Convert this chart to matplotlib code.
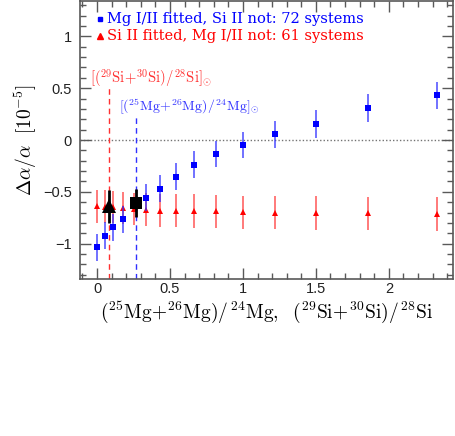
import matplotlib
matplotlib.use("Agg")
import matplotlib.pyplot as plt
from matplotlib.ticker import MultipleLocator

# Data
mg_x = [0.0, 0.053, 0.111, 0.176, 0.333, 0.429, 0.538, 0.667, 0.818, 1.0, 1.222, 1.5, 1.857, 2.333]
mg_y = [-1.035, -0.925, -0.84, -0.763, -0.558, -0.472, -0.353, -0.24, -0.135, -0.048, 0.055, 0.15, 0.308, 0.43]
mg_err = [0.13, 0.13, 0.13, 0.13, 0.13, 0.13, 0.13, 0.13, 0.13, 0.13, 0.13, 0.135, 0.135, 0.133]

si_x = [0.0, 0.053, 0.111, 0.176, 0.25, 0.333, 0.429, 0.538, 0.667, 0.818, 1.0, 1.222, 1.5, 1.857, 2.333]
si_y = [-0.64, -0.642, -0.645, -0.655, -0.665, -0.673, -0.682, -0.683, -0.685, -0.689, -0.697, -0.70, -0.703, -0.706, -0.714]
si_err = [0.157, 0.157, 0.157, 0.158, 0.158, 0.16, 0.16, 0.16, 0.16, 0.16, 0.16, 0.16, 0.16, 0.16, 0.16]

solar_si_x, solar_si_y, solar_si_err = 0.084, -0.64, 0.16
solar_mg_x, solar_mg_y, solar_mg_err = 0.266, -0.61, 0.135

n_mg, n_si = 72, 61

plt.rcParams['mathtext.fontset'] = 'cm'
fig = plt.figure(figsize=(4.55, 4.36), dpi=100)
ax = fig.add_axes([80/455, 1 - 279/436, 373/455, 278.5/436])

ax.set_xlim(-0.117, 2.44)
ax.set_ylim(-1.34, 1.345)

ax.axhline(0, color='0.45', ls=(0, (1, 1.5)), lw=1.0, zorder=1)

# solar dashed lines
ax.plot([solar_si_x, solar_si_x], [-1.34, 0.5], color='#ff3030', ls=(0, (4, 3)), lw=1.0, zorder=1)
ax.plot([solar_mg_x, solar_mg_x], [-1.34, 0.22], color='#3030ff', ls=(0, (4, 3)), lw=1.0, zorder=1)
ax.text(-0.05, 0.6, r'$[(^{29}\mathrm{Si}\!+\!^{30}\mathrm{Si})/^{28}\mathrm{Si}]_{\odot}$',
        color='#ff3030', fontsize=10.5, ha='left', va='center')
ax.text(0.15, 0.327, r'$[(^{25}\mathrm{Mg}\!+\!^{26}\mathrm{Mg})/^{24}\mathrm{Mg}]_{\odot}$',
        color='#3030ff', fontsize=10, ha='left', va='center')

ax.errorbar(si_x, si_y, yerr=si_err, fmt='^', color='red', ms=5, mew=0,
            ecolor=(1, 0.2, 0.2, 0.7), elinewidth=1.3, capsize=2.5, capthick=1.3, zorder=3)
ax.errorbar(mg_x, mg_y, yerr=mg_err, fmt='s', color='blue', ms=4.5, mew=0,
            ecolor=(0.2, 0.2, 1, 0.75), elinewidth=1.3, capsize=2.5, capthick=1.3, zorder=4)

ax.errorbar([solar_si_x], [solar_si_y], yerr=[solar_si_err], fmt='^', color='black', ms=10, mew=0,
            elinewidth=2, capsize=6, capthick=2, zorder=5)
ax.errorbar([solar_mg_x], [solar_mg_y], yerr=[solar_mg_err], fmt='s', color='black', ms=8, mew=0,
            elinewidth=2, capsize=6, capthick=2, zorder=5)

# legend as text
ax.plot([0.02], [1.165], 's', color='blue', ms=3.5)
ax.text(0.065, 1.165, f'Mg I/II fitted, Si II not: {n_mg} systems', color='blue',
        fontsize=10.5, family='DejaVu Serif', va='center', ha='left')
ax.plot([0.02], [1.0], '^', color='red', ms=4)
ax.text(0.065, 1.0, f'Si II fitted, Mg I/II not: {n_si} systems', color='red',
        fontsize=10.5, family='DejaVu Serif', va='center', ha='left')

ax.xaxis.set_major_locator(MultipleLocator(0.5))
ax.xaxis.set_minor_locator(MultipleLocator(0.1))
ax.yaxis.set_major_locator(MultipleLocator(0.5))
ax.yaxis.set_minor_locator(MultipleLocator(0.1))
ax.set_xticks([0, 0.5, 1, 1.5, 2])
ax.set_xticklabels(['0', '0.5', '1', '1.5', '2'])
ax.set_yticks([-1, -0.5, 0, 0.5, 1])
ax.set_yticklabels(['\u22121', '\u22120.5', '0', '0.5', '1'])
ax.tick_params(which='both', direction='in', top=True, right=True, color='0.35', labelsize=10.5,
               labelcolor='#222222')
ax.tick_params(axis='x', pad=2.5)
ax.tick_params(axis='y', pad=6)
ax.tick_params(which='major', length=8, width=1)
ax.tick_params(which='minor', length=4, width=1)
for lab in ax.get_xticklabels() + ax.get_yticklabels():
    lab.set_family('Liberation Sans')
for s in ax.spines.values():
    s.set_color('0.35')
    s.set_linewidth(1.2)

ax.set_xlabel(r'$(^{25}\mathrm{Mg}\!+\!^{26}\mathrm{Mg})/^{24}\mathrm{Mg},\ \ (^{29}\mathrm{Si}\!+\!^{30}\mathrm{Si})/^{28}\mathrm{Si}$',
              fontsize=14, labelpad=2)
ax.set_ylabel(r'$\Delta\alpha/\alpha\ \ [10^{-5}]$', fontsize=14, labelpad=3)

fig.savefig('out.png', dpi=100)
